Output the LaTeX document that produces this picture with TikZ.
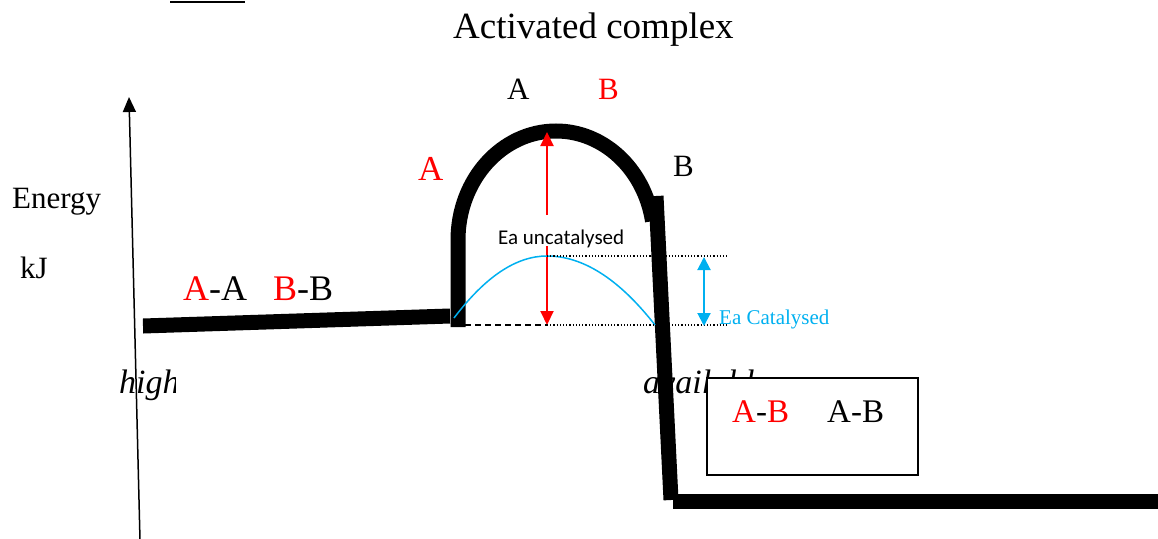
\documentclass[tikz,border=0pt]{standalone}
\usepackage{fontspec}
\setmainfont{Liberation Serif}
\newfontfamily\calfont{Carlito}
\usepackage{xcolor}
\usetikzlibrary{arrows.meta,positioning,calc}
\definecolor{skyblue}{RGB}{0,176,240}

\begin{document}
\begin{tikzpicture}[
    x=1pt, y=-1pt,
    txt/.style={font=\fontsize{31}{36}\selectfont,inner sep=0pt,anchor=base west},
    bigtxt/.style={font=\fontsize{35}{40}\selectfont,inner sep=0pt,anchor=base west},
    itx/.style={font=\fontsize{34}{40}\selectfont\itshape,inner sep=0pt,anchor=base west},
    level/.style={line width=15pt},
    ea/.style={red,line width=2pt,-{Triangle[length=14pt,width=13pt]}},
    eacat/.style={skyblue,line width=2pt,{Triangle[length=13pt,width=13pt]}-{Triangle[length=13pt,width=13pt]}},
    guide/.style={dotted,line width=1.2pt},
  ]
  \useasboundingbox (0,0) rectangle (1158,538);

  % short rule at the top
  \coordinate (rule1) at (170,2);
  \coordinate (rule2) at (245,2);
  \draw[line width=2pt] (rule1) -- (rule2);

  % titles and labels
  \node[bigtxt,font=\fontsize{37}{42}\selectfont] (title) at (453,38) {Activated complex};
  \node[txt] (topA) at (507,99) {A};
  \node[txt,red] (topB) at (598,99) {B};
  \node[bigtxt,red] (leftA) at (418,180) {A};
  \node[txt] (rightB) at (673,176) {B};
  \node[txt] (energy) at (12,208) {Energy};
  \node[txt] (kj) at (20,278) {kJ};
  \node[txt,font=\fontsize{36}{40}\selectfont] (react) at (183,300)
    {\textcolor{red}{A}-A\hspace{26pt}\textcolor{red}{B}-B};

  % partly hidden italic words
  \begin{scope}
    \clip (100,360) rectangle (175,410);
    \node[itx] (high) at (119,393) {high};
  \end{scope}
  \node[itx] (avail) at (643,393) {available};

  % energy axis
  \coordinate (ax0) at (140,540);
  \coordinate (ax1) at (129,97);
  \draw[line width=1.5pt,-{Triangle[length=15pt,width=13pt]}] (ax0) -- (ax1);

  % energy profile
  \coordinate (p0) at (143,326);
  \coordinate (p1) at (450,316);
  \coordinate (p2) at (458,327);
  \coordinate (p3) at (458,240);
  \coordinate (p4) at (656,196);
  \coordinate (p5) at (671,500);
  \coordinate (p6) at (673,501);
  \coordinate (p7) at (1160,501);
  \draw[level] (p0) -- (p1);
  \draw[level] (p2) -- (p3) arc[start angle=180,end angle=350,x radius=98,y radius=109];
  \draw[level] (p4) -- (p5);
  \draw[level] (p6) -- (p7);

  % activation energies
  \coordinate (peak) at (547,132);
  \coordinate (upA) at (547,215);
  \coordinate (upB) at (547,246);
  \coordinate (base) at (547,325);
  \coordinate (cpeak) at (547,256);
  \coordinate (cstart) at (454,318);
  \coordinate (cend) at (655,325);
  \draw[ea] (upA) -- (peak);
  \draw[ea] (upB) -- (base);
  \node[font=\calfont\fontsize{21}{24}\selectfont,inner sep=0pt,anchor=base west] (eaun) at (498,244) {Ea uncatalysed};
  \draw[skyblue,line width=1.5pt] (cstart) .. controls (485,277) and (516,256) .. (cpeak)
        .. controls (583,256) and (619,279) .. (cend);
  \coordinate (dotA) at (728,256);
  \coordinate (dotB) at (728,325);
  \coordinate (dash0) at (465,325);
  \draw[guide] (cpeak) -- (dotA);
  \draw[guide] (base) -- (dotB);
  \draw[dash pattern=on 6pt off 4pt,line width=1.5pt] (dash0) -- (base);
  \coordinate (cat0) at (704,257);
  \coordinate (cat1) at (704,326);
  \draw[eacat] (cat0) -- (cat1);
  \node[skyblue,font=\fontsize{21}{24}\selectfont,inner sep=0pt,anchor=base west] (eacat) at (719,324) {Ea Catalysed};

  % products box
  \node[draw,line width=1.5pt,fill=white,inner sep=0pt,minimum width=211pt,
        minimum height=97pt,anchor=north west] (prod) at (706,377) {};
  \node[txt,red,font=\fontsize{33}{38}\selectfont] (prodA) at (732,422) {A\textcolor{black}{-}B};
  \node[txt,font=\fontsize{33}{38}\selectfont] (prodB) at (827,422) {A-B};
\end{tikzpicture}
\end{document}
